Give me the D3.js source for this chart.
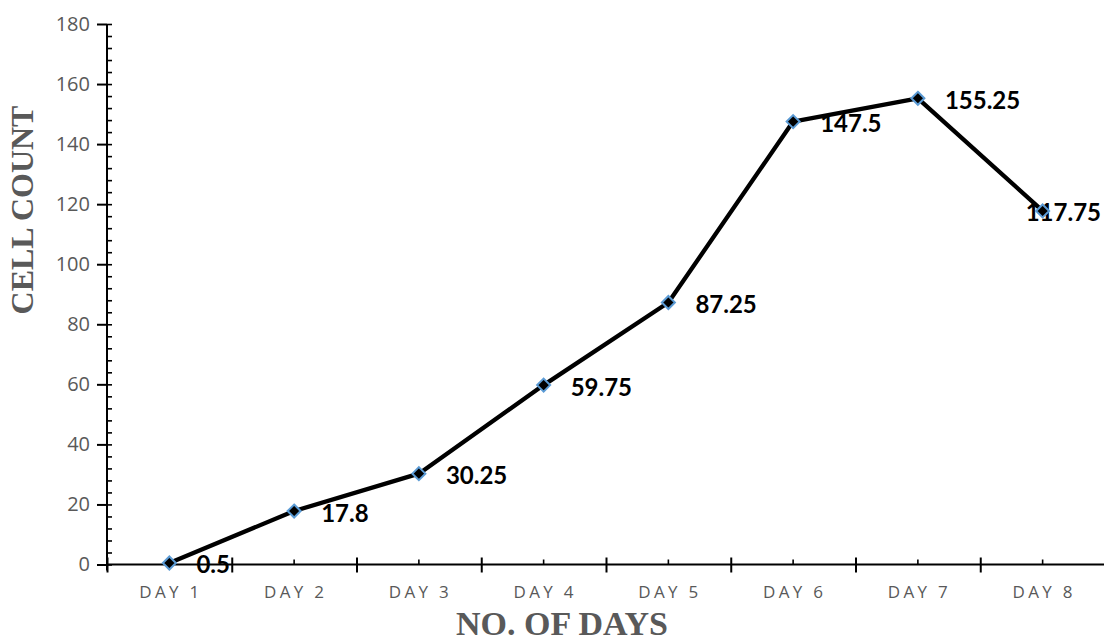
<!DOCTYPE html>
<html>
<head>
<meta charset="utf-8">
<script src="https://cdn.jsdelivr.net/npm/d3@7"></script>
<style>
  html, body { margin: 0; padding: 0; background: #fff; }
  svg { display: block; }
</style>
</head>
<body>
<svg id="chart" width="1104" height="644"></svg>
<script>
// Cell counts per day
const days = ["DAY 1", "DAY 2", "DAY 3", "DAY 4", "DAY 5", "DAY 6", "DAY 7", "DAY 8"];
const cellCounts = [0.5, 17.8, 30.25, 59.75, 87.25, 147.5, 155.25, 117.75];
const yTickValues = [0, 20, 40, 60, 80, 100, 120, 140, 160, 180];

const W = 1104, H = 644;
const plot = { left: 107, right: 1105, top: 24, bottom: 564.5 };
const grey = "#595959";

const svg = d3.select("#chart");

const x = d3.scaleBand().domain(days).range([plot.left, plot.right]).padding(0);
const xBound = d3.scaleLinear().domain([0, days.length]).range([plot.left, plot.right]);
const y = d3.scaleLinear().domain([0, 180]).range([plot.bottom, plot.top]);
const cx = d => x(d) + x.bandwidth() / 2;

const pts = days.map((d, i) => ({ day: d, v: cellCounts[i] }));

// Value labels (drawn beneath the line and markers)
const labelG = svg.append("g");
labelG.selectAll("text").data(pts).join("text")
  .attr("x", d => cx(d.day) + 27)
  .attr("y", d => y(d.v) + 1)
  .attr("dominant-baseline", "central")
  .attr("font-family", "Lato, 'Open Sans', sans-serif")
  .attr("font-weight", "bold")
  .attr("font-size", 24)
  .attr("fill", "#000")
  .text(d => d.v)
  .each(function () {
    // keep labels inside the chart area
    const w = this.getComputedTextLength();
    const xs = +this.getAttribute("x");
    if (xs + w > W - 3) this.setAttribute("x", W - 3 - w);
  });

// Y axis: major ticks outward, minor ticks inward
const yAxis = svg.append("g").attr("transform", `translate(${plot.left},0)`)
  .call(d3.axisLeft(y).tickValues(yTickValues).tickSize(10).tickSizeOuter(0).tickPadding(7));
yAxis.select(".domain").attr("stroke", "#000").attr("stroke-width", 2)
  .attr("d", `M0,${plot.top}V${plot.bottom + 6}`);
yAxis.selectAll(".tick line").attr("stroke", "#000").attr("stroke-width", 2);
yAxis.selectAll(".tick text")
  .attr("font-family", "'Open Sans', Lato, sans-serif")
  .attr("font-size", 20).attr("fill", grey);

const yMinor = svg.append("g").attr("transform", `translate(${plot.left},0)`)
  .call(d3.axisRight(y).tickValues(d3.range(0, 181, 4)).tickSize(5).tickFormat(""));
yMinor.select(".domain").remove();
yMinor.selectAll(".tick line").attr("stroke", "#000").attr("stroke-width", 1.6);

// X axis: category boundaries crossing the line, centre ticks above it
const xAxis = svg.append("g").attr("transform", `translate(0,${plot.bottom})`)
  .call(d3.axisBottom(xBound).tickValues(d3.range(0, days.length + 1)).tickFormat("").tickSizeOuter(0));
xAxis.select(".domain").attr("stroke", "#000").attr("stroke-width", 2)
  .attr("d", `M${plot.left},0H${W}`);
xAxis.selectAll(".tick line").attr("stroke", "#000").attr("stroke-width", 2)
  .attr("y1", -7).attr("y2", 8);

const xCentre = svg.append("g").attr("transform", `translate(0,${plot.bottom})`)
  .call(d3.axisTop(x).tickSize(5).tickSizeOuter(0).tickFormat(""));
xCentre.select(".domain").remove();
xCentre.selectAll(".tick line").attr("stroke", "#000").attr("stroke-width", 1.6);

svg.append("g").selectAll("text").data(days).join("text")
  .attr("x", d => cx(d) + 1.5)
  .attr("y", plot.bottom + 33)
  .attr("text-anchor", "middle")
  .attr("font-family", "'Open Sans', Lato, sans-serif")
  .attr("font-size", 17)
  .attr("letter-spacing", 3.3)
  .attr("fill", grey)
  .text(d => d);

// Series line
const line = d3.line().x(d => cx(d.day)).y(d => y(d.v));
svg.append("path").datum(pts)
  .attr("d", line)
  .attr("fill", "none")
  .attr("stroke", "#000")
  .attr("stroke-width", 4.3)
  .attr("stroke-linejoin", "round");

// Diamond markers
const r = 6.5;
svg.append("g").selectAll("path").data(pts).join("path")
  .attr("d", d => {
    const px = cx(d.day), py = y(d.v);
    return `M${px},${py - r}L${px + r},${py}L${px},${py + r}L${px - r},${py}Z`;
  })
  .attr("fill", "#000")
  .attr("stroke", "#5b9bd5")
  .attr("stroke-width", 2);

// Axis titles
svg.append("text")
  .attr("transform", `translate(33,210) rotate(-90)`)
  .attr("text-anchor", "middle")
  .attr("font-family", "'Liberation Serif', 'Times New Roman', serif")
  .attr("font-weight", "bold")
  .attr("font-size", 32)
  .attr("fill", grey)
  .text("CELL COUNT");

svg.append("text")
  .attr("x", 562)
  .attr("y", 635)
  .attr("text-anchor", "middle")
  .attr("font-family", "'Liberation Serif', 'Times New Roman', serif")
  .attr("font-weight", "bold")
  .attr("font-size", 34)
  .attr("fill", grey)
  .text("NO. OF DAYS");
</script>
</body>
</html>
